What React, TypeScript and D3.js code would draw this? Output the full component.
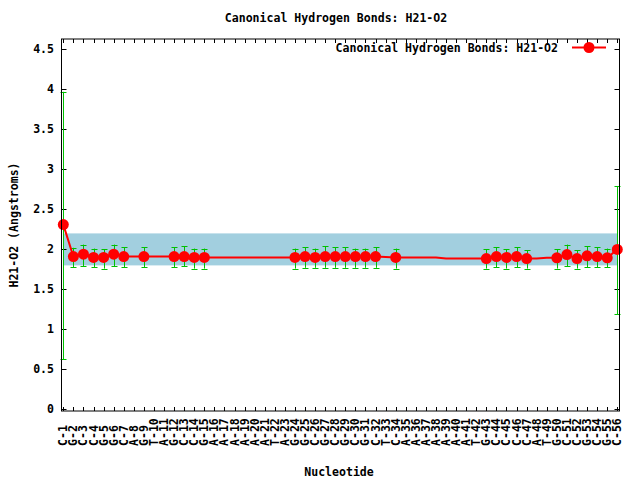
import React from "react";
import * as d3 from "d3";

const nucleotides = ["C-1","G-2","C-3","C-4","G-5","G-6","C-7","A-8","G-9","T-10","A-11","G-12","C-13","C-14","G-15","A-16","A-17","A-18","A-19","A-20","A-21","T-22","A-23","G-24","G-25","C-26","G-27","C-28","G-29","C-30","G-31","C-32","T-33","C-34","A-35","A-36","A-37","A-38","A-39","A-40","A-41","T-42","G-43","C-44","C-45","C-46","C-47","A-48","T-49","G-50","C-51","C-52","G-53","C-54","G-55","C-56"];

const lineValues = [2.31,1.91,1.94,1.90,1.90,1.94,1.91,1.91,1.91,1.91,1.91,1.91,1.91,1.90,1.90,1.90,1.90,1.90,1.90,1.90,1.90,1.90,1.90,1.90,1.91,1.90,1.91,1.91,1.91,1.91,1.91,1.91,1.905,1.90,1.90,1.90,1.90,1.90,1.885,1.885,1.885,1.885,1.885,1.91,1.90,1.91,1.885,1.885,1.895,1.895,1.935,1.885,1.92,1.91,1.895,2.0];

const pointIdx = [1,2,3,4,5,6,7,9,12,13,14,15,24,25,26,27,28,29,30,31,32,34,43,44,45,46,47,50,51,52,53,54,55,56];
const pointHigh = [3.97,2.02,2.06,2.01,2.00,2.06,2.03,2.03,2.03,2.04,2.01,2.01,2.01,2.03,2.01,2.04,2.03,2.03,2.01,2.01,2.03,2.01,2.00,2.03,2.00,2.03,1.99,2.00,2.06,1.99,2.04,2.03,2.01,2.79];
const pointLow = [0.63,1.78,1.79,1.78,1.76,1.79,1.78,1.78,1.78,1.79,1.76,1.76,1.76,1.77,1.77,1.77,1.77,1.77,1.77,1.77,1.77,1.76,1.76,1.78,1.76,1.78,1.76,1.76,1.79,1.76,1.78,1.78,1.78,1.19];

const yTicks = [0,0.5,1,1.5,2,2.5,3,3.5,4,4.5];
const bandRange = [1.8, 2.2];

const titleText = "Canonical Hydrogen Bonds: H21-O2";
const FONT = "'DejaVu Sans Mono', monospace";
const CW = 6.95;

export default function App() {
  const W = 640, H = 480;
  const L = 61.5, R = 619.5, T = 39, B = 411;
  const x = d3.scaleLinear().domain([0.82, 56.22]).range([L, R]);
  const y = d3.scaleLinear().domain([-0.02, 4.63]).range([B, T]);
  const red = "#ff0000";
  const green = "#00c000";
  const lineGen = d3.line<number>().x((_, i) => x(i + 1)).y((d) => y(d));
  const txt = (s: string) => ({ textLength: s.length * CW, lengthAdjust: "spacingAndGlyphs" as const });

  return (
    <svg width={W} height={H} style={{ position: "absolute", left: 0, top: 0, background: "#fff" }}
      fontFamily={FONT} fontWeight="bold" fontSize={11.5}>
      <rect x={0} y={0} width={W} height={H} fill="#fff" />
      {/* band */}
      <rect x={x(1)} y={y(bandRange[1])} width={x(56) - x(1)} height={y(bandRange[0]) - y(bandRange[1])} fill="#a2cfdf" />
      {/* title */}
      <text x={336} y={22} textAnchor="middle" {...txt(titleText)}>{titleText}</text>
      {/* y ticks */}
      {yTicks.map((t) => (
        <g key={"y" + t}>
          <line x1={L} x2={L + 5} y1={Math.round(y(t)) + 0.5} y2={Math.round(y(t)) + 0.5} stroke="#000" />
          <line x1={R - 5} x2={R} y1={Math.round(y(t)) + 0.5} y2={Math.round(y(t)) + 0.5} stroke="#000" />
          <text x={54} y={y(t) + 4} textAnchor="end" {...txt(String(t))}>{String(t)}</text>
        </g>
      ))}
      {/* x ticks */}
      {nucleotides.map((n, i) => {
        const xv = Math.round(x(i + 1)) + 0.5;
        return (
          <g key={n}>
            <line x1={xv} x2={xv} y1={B} y2={B - 4} stroke="#000" />
            <line x1={xv} x2={xv} y1={T} y2={T + 4} stroke="#000" />
            <text transform={`translate(${x(i + 1) + 4},446) rotate(-90)`} textAnchor="start" {...txt(n)}>{n}</text>
          </g>
        );
      })}
      {/* axis labels */}
      <text x={339} y={476} textAnchor="middle" {...txt("Nucleotide")}>Nucleotide</text>
      <text transform={`translate(18,${(T + B) / 2}) rotate(-90)`} textAnchor="middle" {...txt("H21-O2 (Angstroms)")}>H21-O2 (Angstroms)</text>
      {/* error bars */}
      {pointIdx.map((p, i) => {
        const xv = Math.round(x(p)) + 0.5;
        return (
          <g key={"e" + p} stroke={green} strokeWidth={1}>
            <line x1={xv} x2={xv} y1={y(pointHigh[i])} y2={y(pointLow[i])} />
            <line x1={xv - 3} x2={xv + 3} y1={Math.round(y(pointHigh[i])) + 0.5} y2={Math.round(y(pointHigh[i])) + 0.5} />
            <line x1={xv - 3} x2={xv + 3} y1={Math.round(y(pointLow[i])) + 0.5} y2={Math.round(y(pointLow[i])) + 0.5} />
          </g>
        );
      })}
      {/* line */}
      <path d={lineGen(lineValues) || ""} fill="none" stroke={red} strokeWidth={2} />
      {/* points */}
      {pointIdx.map((p) => (
        <circle key={"p" + p} cx={x(p)} cy={y(lineValues[p - 1])} r={5.5} fill={red} />
      ))}
      {/* legend */}
      <text x={558} y={52} textAnchor="end" {...txt(titleText)}>{titleText}</text>
      <line x1={572} x2={606} y1={47.5} y2={47.5} stroke={red} strokeWidth={2} />
      <circle cx={589} cy={47.5} r={5.5} fill={red} />
      {/* border */}
      <rect x={L} y={T} width={R - L} height={B - T} fill="none" stroke="#000" strokeWidth={1} />
    </svg>
  );
}
